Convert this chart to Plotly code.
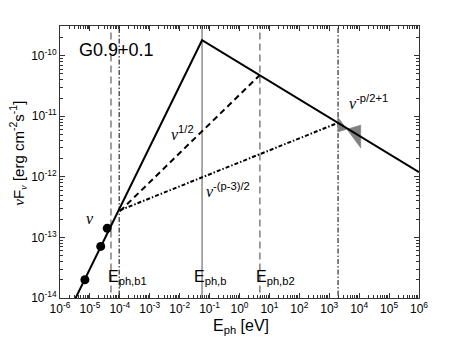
import plotly.graph_objects as go

# broken power-law model (synchrotron)
sync_E = [3e-6, 0.056, 1e6]
sync_F = [9e-15, 1.8e-10, 1.2e-12]

half_E = [1e-4, 4.8]
half_F = [2.7e-13, 4.8e-11]

pm3_E = [1e-4, 1970]
pm3_F = [2.8e-13, 7.8e-12]

# radio points
radio_E = [6.8e-6, 2.3e-5, 3.8e-5]
radio_F = [2.0e-14, 7.1e-14, 1.42e-13]

# x-ray bowtie
bow_E = [1930, 11300, 11300, 1930, 1930]
bow_F = [9.7e-12, 2.99e-12, 7.16e-12, 5.5e-12, 9.7e-12]

# break energies
E_b1 = 5.06e-5
E_cut1 = 9.5e-5
E_b = 0.056
E_b2 = 4.8
E_cut2 = 1970

xdec = list(range(-6, 7))
ydec = list(range(-14, -9))
tick_vals = [10.0**k for k in xdec]
tick_text = ["10<sup>%d</sup>" % k for k in xdec]
ytick_vals = [10.0**k for k in ydec]
ytick_text = ["10<sup>%d</sup>" % k for k in ydec]
xminor = [m * 10.0**k for k in xdec for m in range(2, 10)]
yminor = [m * 10.0**k for k in range(-14, -9) for m in range(2, 10)]

FONT = "Liberation Sans, Arial, sans-serif"
NU = "<span style='font-family:Liberation Serif'><i>ν</i></span>"
yspan = [1e-15, 1e-9]

fig = go.Figure()

def vline(E, color, dash, width):
    fig.add_trace(go.Scatter(x=[E, E], y=yspan, mode="lines",
                             line=dict(color=color, dash=dash, width=width),
                             hoverinfo="skip"))

vline(E_b1, "#808080", "7px,4px", 1.5)
vline(E_cut1, "#000000", "5px,2px,1.5px,2px", 1)
vline(E_b, "#707070", "solid", 1.2)
vline(E_b2, "#808080", "7px,4px", 1.5)
vline(E_cut2, "#000000", "5px,2px,1.5px,2px", 1)

fig.add_trace(go.Scatter(x=bow_E, y=bow_F, mode="lines", fill="toself",
                         fillcolor="#808080", line=dict(color="#808080", width=0.5)))

fig.add_trace(go.Scatter(x=half_E, y=half_F, mode="lines",
                         line=dict(color="black", dash="6px,4px", width=2)))
fig.add_trace(go.Scatter(x=pm3_E, y=pm3_F, mode="lines",
                         line=dict(color="black", dash="4px,2px,1.5px,2px", width=2)))
fig.add_trace(go.Scatter(x=sync_E, y=sync_F, mode="lines",
                         line=dict(color="black", width=2)))
fig.add_trace(go.Scatter(x=radio_E, y=radio_F, mode="markers",
                         marker=dict(color="black", size=9)))

def note(x, y, text, size=16, xanchor="left"):
    fig.add_annotation(x=x, y=y, xref="x", yref="y", text=text, showarrow=False,
                       xanchor=xanchor, yanchor="middle",
                       font=dict(family=FONT, size=size, color="black"))

note(-5.43, -9.91, "G0.9+0.1", size=18)
note(-2.35, -11.28, NU + "<sup>1/2</sup>")
note(-1.18, -12.22, NU + "<sup>-(p-3)/2</sup>")
note(3.6, -10.77, NU + "<sup>-p/2+1</sup>")
note(-5.0, -12.68, NU, xanchor="center")
note(-4.45, -13.66, "E<sub>ph,b1</sub>")
note(-1.58, -13.66, "E<sub>ph,b</sub>")
note(0.5, -13.66, "E<sub>ph,b2</sub>")

# axis titles placed by hand
fig.add_annotation(x=0.504, y=-0.105, xref="paper", yref="paper", showarrow=False,
                   text="E<sub>ph</sub> [eV]", xanchor="center", yanchor="middle",
                   font=dict(family=FONT, size=16, color="black"))
fig.add_annotation(x=-0.117, y=0.534, xref="paper", yref="paper", showarrow=False,
                   text=NU + "F<sub>" + NU + "</sub> [erg cm<sup>-2</sup>s<sup>-1</sup>]",
                   textangle=-90, xanchor="center", yanchor="middle",
                   font=dict(family=FONT, size=15, color="black"))

axis_common = dict(showline=True, linecolor="#333", linewidth=1, mirror="ticks",
                   ticks="inside", ticklen=5, tickcolor="#333", showgrid=False,
                   zeroline=False, automargin=False,
                   tickfont=dict(family=FONT, size=12, color="black"))

fig.update_xaxes(type="log", range=[-6, 6], tickvals=tick_vals, ticktext=tick_text,
                 minor=dict(tickvals=xminor, ticks="inside", ticklen=3,
                            tickcolor="#333", showgrid=False),
                 **axis_common)
fig.update_yaxes(type="log", range=[-14, -9.51], tickvals=ytick_vals, ticktext=ytick_text,
                 minor=dict(tickvals=yminor, ticks="inside", ticklen=3,
                            tickcolor="#333", showgrid=False),
                 **axis_common)

# the page body adds an 8px margin, so the figure is drawn 8px smaller
fig.update_layout(width=455, height=332, showlegend=False,
                  margin=dict(l=52, r=44, t=18, b=42),
                  plot_bgcolor="white", paper_bgcolor="white",
                  font=dict(family=FONT, color="black"))

fig.write_html("out.html")
